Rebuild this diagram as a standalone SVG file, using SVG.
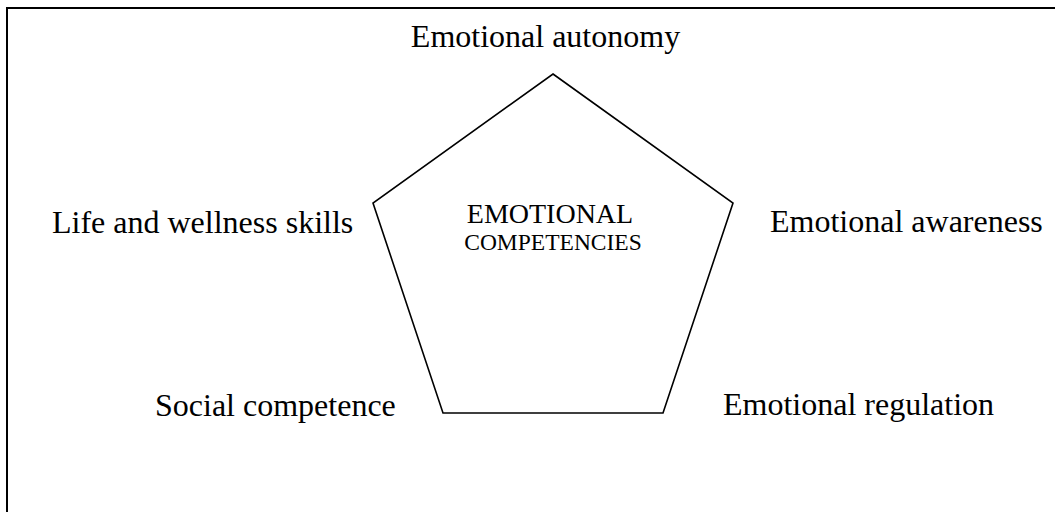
<svg xmlns="http://www.w3.org/2000/svg" width="1055" height="512" viewBox="0 0 1055 512">
<style>
.lbl{font-family:"Liberation Serif","Times New Roman",serif;font-size:32px;fill:#000}
.ctr{font-family:"Liberation Serif","Times New Roman",serif;fill:#000;text-anchor:middle}
</style>
<rect x="0" y="0" width="1055" height="512" fill="#fff"/>
<path d="M7 520 V8 H1060" fill="none" stroke="#000" stroke-width="2"/>
<g id="pentagon">
<polygon points="553,74 733,203 663,413 443,413 373,203" fill="#fff" stroke="#000" stroke-width="1.6"/>
<text class="ctr" x="550" y="223" font-size="28">EMOTIONAL</text>
<text class="ctr" x="553" y="250" font-size="23.5">COMPETENCIES</text>
</g>
<g id="autonomy"><text class="lbl" x="545.5" y="47" text-anchor="middle">Emotional autonomy</text></g>
<g id="awareness"><text class="lbl" x="770" y="232">Emotional awareness</text></g>
<g id="regulation"><text class="lbl" x="723" y="415">Emotional regulation</text></g>
<g id="social"><text class="lbl" x="155" y="416">Social competence</text></g>
<g id="life"><text class="lbl" x="52" y="233">Life and wellness skills</text></g>
<g id="connectors"></g>
</svg>
